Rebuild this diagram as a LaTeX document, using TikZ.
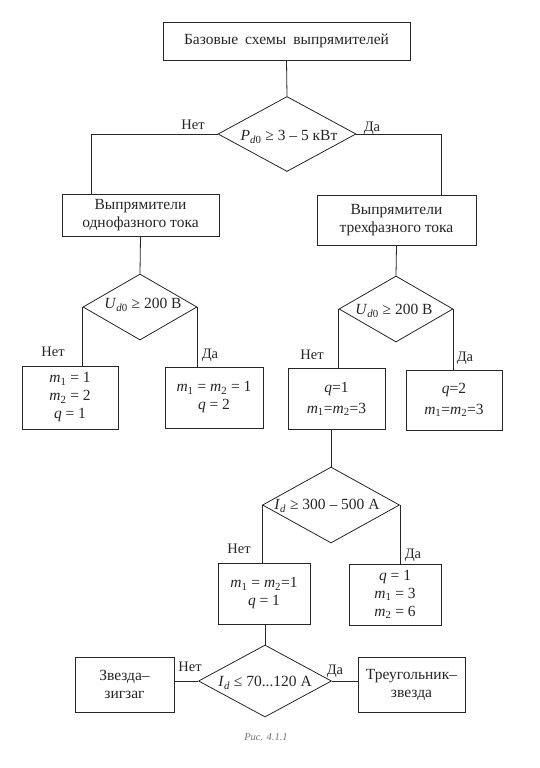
\documentclass[tikz,border=0pt]{standalone}
\usepackage{fontspec}
\setmainfont{Liberation Serif}
\usetikzlibrary{shapes.geometric}
\newcommand\sbs[1]{\textsubscript{#1}}
\newcommand\vi[1]{\textit{#1}}
\definecolor{ink}{gray}{0.15}
\definecolor{capink}{gray}{0.45}
\begin{document}
\begin{tikzpicture}[x=1pt,y=-1pt,
  box/.style={draw=ink, line width=0.8pt, rectangle, inner sep=0pt, align=center,
              font=\fontsize{15.5}{18}\selectfont, text=ink},
  dia/.style={draw=ink, line width=0.8pt, diamond, inner sep=0pt},
  dtxt/.style={font=\fontsize{15.5}{18}\selectfont, text=ink, inner sep=0pt},
  lab/.style={font=\fontsize{14.5}{17}\selectfont, text=ink, inner sep=0pt},
  conn/.style={draw=ink, line width=0.8pt}]
\fill[white] (0,0) rectangle (539,768);
\useasboundingbox (0,0) rectangle (539,768);

% boxes
\node[box, minimum width=247pt, minimum height=38pt] (top) at (286.5,41)
  {Базовые\hspace{0.45em}схемы\hspace{0.45em}выпрямителей};
\node[box, minimum width=157pt, minimum height=42pt] (b1) at (140.5,215)
  {Выпрямители\\однофазного тока};
\node[box, minimum width=159pt, minimum height=50pt] (b2) at (396.5,220)
  {Выпрямители\\трехфазного тока};
\node[box, minimum width=96pt, minimum height=63pt] (L1) at (70,397.5)
  {\vi{m}\sbs{1} = 1\\\vi{m}\sbs{2} = 2\\\vi{q} = 1};
\node[box, minimum width=98pt, minimum height=61pt] (L2) at (214,397.5)
  {\vi{m}\sbs{1} = \vi{m}\sbs{2} = 1\\\vi{q} = 2};
\node[box, minimum width=97pt, minimum height=61pt] (R1) at (336.5,398.5)
  {\vi{q}=1\\[3pt]\vi{m}\sbs{1}=\vi{m}\sbs{2}=3};
\node[box, minimum width=96pt, minimum height=60pt] (R2) at (454,400)
  {\vi{q}=2\\[3pt]\vi{m}\sbs{1}=\vi{m}\sbs{2}=3};
\node[box, minimum width=92pt, minimum height=61pt] (N1) at (264,593.5)
  {\vi{m}\sbs{1} = \vi{m}\sbs{2}=1\\\vi{q} = 1};
\node[box, minimum width=92pt, minimum height=61pt] (Y1) at (395,594.5)
  {\vi{q} = 1\\\vi{m}\sbs{1} = 3\\\vi{m}\sbs{2} = 6};
\node[box, minimum width=99pt, minimum height=55pt] (Z) at (124.5,684.5)
  {Звезда–\\зигзаг};
\node[box, minimum width=107pt, minimum height=55pt] (T) at (411.5,684.5)
  {Треугольник–\\звезда};

% diamonds
\node[dia, minimum width=138pt, minimum height=75pt] (d1) at (287,134) {};
\node[dia, minimum width=114pt, minimum height=66pt] (d2) at (140,307) {};
\node[dia, minimum width=114pt, minimum height=66pt] (d3) at (396,309) {};
\node[dia, minimum width=137pt, minimum height=76pt] (d4) at (331,505) {};
\node[dia, minimum width=133pt, minimum height=72pt] (d5) at (265,681) {};

% diamond texts
\node[dtxt] (t1) at (289,137) {\vi{P}\sbs{\vi{d}0} ≥ 3 – 5 кВт};
\node[dtxt] (t2) at (143,305) {\vi{U}\sbs{\vi{d}0} ≥ 200 В};
\node[dtxt] (t3) at (394,311) {\vi{U}\sbs{\vi{d}0} ≥ 200 В};
\node[dtxt] (t4) at (327,506) {\vi{I}\sbs{\vi{d}} ≥ 300 – 500 A};
\node[dtxt] (t5) at (265,683) {\vi{I}\sbs{\vi{d}} ≤ 70...120 A};

% yes/no labels
\node[lab] (n1) at (193,125) {Нет};
\node[lab] (y1) at (372,128) {Да};
\node[lab] (n2) at (53,352) {Нет};
\node[lab] (y2) at (210,355) {Да};
\node[lab] (n3) at (312,355) {Нет};
\node[lab] (y3) at (465,358) {Да};
\node[lab] (n4) at (239,549) {Нет};
\node[lab] (y4) at (413,555) {Да};
\node[lab] (n5) at (190,667) {Нет};
\node[lab] (y5) at (335,671) {Да};

% caption
\node[font=\fontsize{10.5}{12}\selectfont\itshape, text=capink, inner sep=0pt] (cap) at (266,737) {Рис. 4.1.1};

% connectors
\draw[conn] (top.south) -- (d1.north);
\draw[conn] (d1.west) -| ([xshift=-49pt]b1.north);
\draw[conn] (d1.east) -| ([xshift=44.5pt]b2.north);
\draw[conn] (b1.south) -- (d2.north);
\draw[conn] (d2.west) -- (d2.west |- L1.north);
\draw[conn] (d2.east) -- (d2.east |- L2.north);
\draw[conn] (b2.south) -- (d3.north);
\draw[conn] (d3.west) -- (d3.west |- R1.north);
\draw[conn] (d3.east) -- (d3.east |- R2.north);
\draw[conn] (d4.north |- R1.south) -- (d4.north);
\draw[conn] (d4.west) -- (d4.west |- N1.north);
\draw[conn] (d4.east) -- (d4.east |- Y1.north);
\draw[conn] (d5.north |- N1.south) -- (d5.north);
\draw[conn] (d5.west) -- (Z.east |- d5.west);
\draw[conn] (d5.east) -- (T.west |- d5.east);
\end{tikzpicture}
\end{document}
